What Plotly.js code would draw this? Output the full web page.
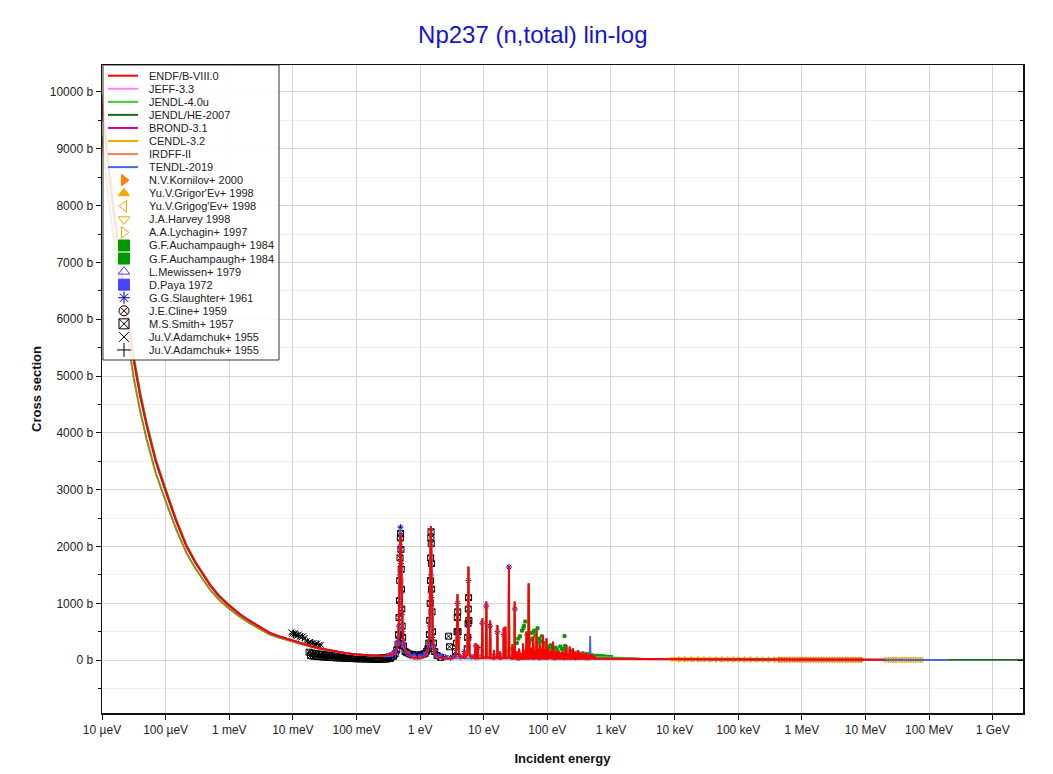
<!DOCTYPE html>
<html><head><meta charset="utf-8">
<script src="https://cdn.plot.ly/plotly-3.0.1.min.js"></script>
<style>html,body{margin:0;padding:0;background:#fff}#chart{width:1053px;height:774px}</style>
</head><body><div id="chart"></div>
<script>
// ---------- tick labels ----------
const X_TICK_VALS = [1e-5,1e-4,1e-3,1e-2,1e-1,1,10,100,1e3,1e4,1e5,1e6,1e7,1e8,1e9];
const X_TICK_TEXT = ['10 µeV','100 µeV','1 meV','10 meV','100 meV','1 eV','10 eV','100 eV','1 keV','10 keV','100 keV','1 MeV','10 MeV','100 MeV','1 GeV'];
const Y_TICK_VALS = [0,1000,2000,3000,4000,5000,6000,7000,8000,9000,10000];
const Y_TICK_TEXT = ['0 b','1000 b','2000 b','3000 b','4000 b','5000 b','6000 b','7000 b','8000 b','9000 b','10000 b'];

// ---------- evaluated data: low-energy (1/v) part ----------
const LOW_E = [1e-5,1.2e-5,1.5e-5,2e-5,2.5e-5,3.16e-5,4e-5,5e-5,7e-5,1e-4,1.5e-4,2.14e-4,3e-4,5e-4,7e-4,1e-3,1.5e-3,2.1e-3,3e-3,4.3e-3,6e-3,1e-2,1.5e-2,2.07e-2,3e-2,4.8e-2,7e-2,0.1,0.15,0.23,0.3,0.36];
const ENDF_LOW = [9800,8900,7950,6850,6050,5280,4650,4150,3500,2980,2420,2000,1700,1320,1120,960,800,690,580,480,420,340,280,235,195,150,120,100,85,75,80,95];
const JENDL40_LOW = [9950,9030,8070,6950,6140,5360,4720,4210,3550,3025,2455,2030,1725,1340,1135,975,810,700,588,487,425,344,283,237,197,151,121,101,86,76,80,95];
const JENDLHE_LOW = [9210,8370,7470,6440,5690,4960,4370,3900,3290,2800,2275,1880,1600,1240,1055,905,755,650,548,455,398,322,266,224,187,145,117,97,83,74,79,94];
const CENDL_LOW = [9210,8370,7470,6440,5690,4960,4370,3900,3290,2800,2275,1880,1600,1240,1055,905,755,650,548,455,398,322,266,224,187,145,117,97,83,74,79,94];

// ---------- evaluated data: resolved resonance region (main resonances) ----------
const RES_E = [
 0.40,0.43,0.45,0.462,0.472,0.48,0.487,0.492,0.498,0.506,0.515,0.528,0.545,0.57,0.62,0.75,0.9,
 1.1,1.2,1.30,1.36,1.40,1.43,1.45,1.465,1.478,1.49,1.505,1.525,1.55,1.59,1.65,1.75,2.0,2.5,3.2,
 3.65,3.78,3.87,3.96,4.1, 4.8,4.95,5.05, 5.5,5.66,5.75,5.84,6.0, 7.2,7.45,7.6, 8.0,8.1,8.2,
 9.3,9.5,9.7, 10.8,10.97,11.15, 12.4,12.6,12.8, 14.3,14.5,14.7, 16.2,16.4,16.6, 17.8,18.0,18.2,
 20.4,20.6,20.9, 21.7,21.9,22.2, 24.6,24.9,25.2, 28.0,28.2,28.4, 30.4,30.7,31.0,
 32.6,33,33.4, 35.6,36,36.4, 38.5,39,39.5, 41,41.5,42, 43.6,44,44.4, 46.2,46.8,47.4, 50.3,50.9,51.5,
 52.5,53,53.5, 54.4,55,55.6, 56.4,57,57.6, 58.9,59.6,60.3, 62.3,63,63.7, 64.4,65,65.6, 66.5,67.3,68.1,
 70.2,71,71.8, 72.3,73,73.7, 75,75.9,76.8, 77.2,78,78.8, 79.2,80,80.8, 84.2,85.2,86.2, 87.1,88,88.9,
 91,92,93, 95.5,96.6,97.7, 98.5,99.4,100.2, 100.8,102,103.2, 106.7,108,109.3, 110.7,112,113.3,
 114.6,116,117.4, 118,119,120, 121.5,123,124.5, 125.5,127,128.5, 130.4,132,133.6, 135.4,136,136.8,
 137.4,139,140.6, 142.3,144,145.7, 148.2,150,151.8, 155.2,157,158.8, 163,165,167, 170,172,174,
 178,180,182, 186,188,190, 196.6,199,201.4, 202.6,205,207.4, 209.5,212,214.5, 215.4,218,220.6,
 222.3,225,227.7, 235,238,241, 250,253,256, 259,262,265, 271.7,275,278.3, 281.6,285,288.4,
 291.5,295,298.5, 300.4,304,307.6, 311.3,315,318.7, 326,330,334, 341,345,349, 355.7,360,364.3,
 375.5,380,384.5, 395.2,400,404.8, 410,415,420, 425,430,435, 444.7,450,455.3, 460.5,466,471.5,
 484,490,496, 504,510,516, 523.7,530,536.3, 543.5,550,556.5];
const ENDF_RES = [
 120,200,330,600,1100,1650,2150,2250,2100,1600,1100,600,330,200,110,50,40,
 50,80,150,260,450,900,1500,2100,2360,2150,1600,1000,550,300,170,100,45,30,30,
 80,450,1160,420,70, 40,176,40, 90,600,1645,550,80, 35,300,35, 35,265,35,
 40,734,40, 50,1027,50, 40,700,40, 30,180,30, 40,616,40, 30,150,30,
 40,569,40, 40,587,40, 50,1660,50, 30,250,30, 40,1027,40,
 25,150,25, 25,200,25, 25,120,25, 25,293,25, 25,90,25, 25,499,25, 25,1350,25,
 25,100,25, 25,220,25, 25,130,25, 25,411,25, 25,180,25, 25,90,25, 25,516,25,
 25,200,25, 25,110,25, 25,293,25, 25,100,25, 25,150,25, 25,440,25, 25,130,25,
 25,200,25, 25,382,25, 25,100,25, 25,235,25, 25,150,25, 25,120,25,
 25,176,25, 25,90,25, 25,323,25, 25,110,25, 25,120,25, 25,90,25,
 25,146,25, 25,100,25, 25,160,25, 25,120,25, 25,110,25, 25,90,25,
 25,140,25, 25,110,25, 25,264,25, 25,90,25, 25,120,25, 25,100,25,
 25,235,25, 25,120,25, 25,211,25, 25,90,25, 25,150,25, 25,110,25,
 25,100,25, 25,176,25, 25,90,25, 25,120,25, 25,100,25, 25,110,25,
 25,90,25, 25,130,25, 25,80,25, 25,100,25, 25,70,25, 25,88,25,
 25,70,25, 25,80,25, 25,60,25, 25,70,25];

// ---------- evaluated data: smaller resonances of the 30-560 eV forest ----------
const FOREST_E = [
 31.5,31.8,32.1, 34,34.3,34.6, 36.8,37.2,37.6, 39.7,40.1,40.5, 42.3,42.7,43.1, 44.9,45.3,45.7,
 48.1,48.6,49.1, 49.3,49.6,49.9, 51.7,52,52.3, 55.8,56,56.2, 57.8,58,58.4, 60.6,61,61.4,
 63.8,64,64.2, 68.4,69,69.6, 74,74.2,74.5, 81.5,82,82.5, 83,83.5,84, 89.2,89.6,90.2,
 93.5,94,94.6, 104,105,106, 129,129.4,129.8, 134,134.4,134.9, 141,141.4,141.9, 146,146.6,147.3,
 152.5,153,153.8, 159.5,160.5,161.8, 167.5,168.3,169.3, 175,176,177, 183,184,185, 191.5,193,194.5,
 229.5,231,232.8, 243,244.5,246.5, 266.5,268,269.8, 279,280,281, 289,290,291, 320,321,322.5,
 336,337.5,339.5, 351,352,353.5, 367.5,370,372.5, 387,390,392.5, 406,408,409.5, 437,440,443,
 457,458,459.5, 475,478,481, 498,500,502, 518,520,522, 538,540,542];
const FOREST_XS = [
 20,110,20, 20,90,20, 20,140,20, 20,100,20, 20,180,20, 20,130,20,
 20,220,20, 20,160,20, 20,140,20, 20,170,20, 20,120,20, 20,200,20,
 20,150,20, 20,180,20, 20,160,20, 20,200,20, 20,150,20, 20,170,20,
 20,150,20, 20,180,20, 20,160,20, 20,130,20, 20,150,20, 20,100,20,
 20,130,20, 20,140,20, 20,120,20, 20,150,20, 20,110,20, 20,170,20,
 20,160,20, 20,120,20, 20,110,20, 20,130,20, 20,120,20, 20,110,20,
 20,130,20, 20,100,20, 20,120,20, 20,110,20, 20,120,20, 20,100,20,
 20,90,20, 20,100,20, 20,80,20, 20,90,20, 20,70,20];

const TENDL_RES_E = [0.40,0.43,0.45,0.462,0.472,0.48,0.487,0.492,0.498,0.506,0.515,0.528,0.545,0.57,0.62,0.75,0.9,1.1,1.2,1.30,1.36,1.40,1.43,1.45,1.465,1.478,1.49,1.505,1.525,1.55,1.59,1.65,1.75,2.0,2.5,3.2,460,465,470,475,480,556];
const TENDL_RES = [120,200,330,600,1100,1650,2150,2320,2100,1600,1100,600,330,200,110,50,40,50,80,150,260,450,900,1500,2100,2340,2150,1600,1000,550,300,170,100,45,30,30,25,25,423,25,25,30];

// ---------- evaluated data: smooth high-energy part ----------
const HIGH_E = [580,700,1000,3000,1e4,3e4,1e5,3e5,1e6,3e6,1e7,2e7];
const ENDF_HIGH = [30,28,25,21,18,15,12,10,8,7.2,6.2,5.8];
const JENDL40_HIGH = [60,55,45,25,19,15,12,10,8,7.2,6.2,5.8];
const HE_HIGH_E = [580,700,1000,3000,1e4,3e4,1e5,3e5,1e6,3e6,1e7,2e7,5e7,1e8,3e8,1e9,3e9];
const JENDLHE_HIGH = [30,28,25,21,18,15,12,10,8,7.2,6.2,5.8,5.0,4.7,4.5,4.4,4.4];
const TENDL_HIGH_E = [580,700,1000,3000,1e4,3e4,1e5,3e5,1e6,3e6,1e7,2e7,5e7,1e8,2e8];
const TENDL_HIGH = [30,28,25,21,18,15,12,10,8,7.2,6.2,5.8,5.0,4.7,4.6];

// ---------- experimental data ----------
const KORNILOV_E = [4.5e5,5e5,5.5e5,6e5,6.6e5,7.3e5,8e5,8.8e5,9.7e5,1.07e6,1.18e6,1.3e6,1.43e6,1.57e6,1.73e6,1.9e6,2.1e6,2.3e6,2.55e6,2.8e6,3.1e6,3.4e6,3.75e6,4.1e6,4.5e6,5e6,5.5e6,6e6,6.6e6,7.3e6,8e6,8.8e6];
const KORNILOV_XS = [9.0,8.8,8.6,8.4,8.2,8.0,7.9,7.8,7.7,7.6,7.5,7.4,7.3,7.3,7.2,7.2,7.2,7.2,7.2,7.2,7.1,7.1,7.0,6.9,6.8,6.7,6.6,6.5,6.3,6.2,6.0,5.9];
const GRIGOREV_E = [1e5,1.5e5,2e5,3e5,4e5,5e5,6.5e5,8e5,1e6,1.2e6,1.5e6,2e6,2.5e6,3e6,4e6,5e6,6.5e6,8e6];
const GRIGOREV_XS = [11.5,10.8,10.3,9.6,9.2,8.9,8.4,8.1,7.8,7.6,7.4,7.2,7.2,7.1,6.9,6.8,6.5,6.3];
const GRIGOGEV_E = [2e7,2.2e7,2.4e7,2.6e7,2.8e7,3e7,3.3e7,3.6e7,3.9e7,4.2e7,4.6e7,5e7,5.4e7,5.9e7,6.4e7,7e7,7.6e7];
const GRIGOGEV_XS = [5.7,5.6,5.5,5.5,5.4,5.4,5.3,5.2,5.1,5.1,5.0,4.9,4.9,4.8,4.7,4.7,4.6];
const HARVEY_E = [9e3,1e4,1.1e4,1.25e4,1.4e4,1.6e4,1.8e4,2e4,2.3e4,2.6e4,3e4,3.4e4,3.9e4,4.5e4,5.2e4,6e4,7e4,8e4,9e4,1.05e5,1.2e5,1.4e5,1.6e5,1.85e5,2.1e5,2.4e5,2.8e5,3.2e5,3.7e5,4.3e5,5e5,5.7e5,6.5e5];
const HARVEY_XS = [16.5,16,15.6,15.2,15,14.7,14.4,14.2,13.9,13.7,13.4,13.2,13,12.7,12.4,12.2,12,11.7,11.5,11.2,11,10.7,10.4,10.2,10,9.8,9.5,9.3,9.1,8.9,8.7,8.5,8.3];
const LYCHAGIN_E = [1.2e4,1.5e4,1.9e4,2.4e4,3e4,3.7e4,4.6e4,5.7e4,7e4,8.6e4,1.05e5,1.3e5,1.6e5,2e5,2.5e5,3.1e5,3.8e5,4.7e5];
const LYCHAGIN_XS = [15.3,15,14.5,14,13.4,13.1,12.6,12.3,12,11.6,11.2,10.8,10.4,10.2,9.9,9.5,9.2,8.9];
const AUCH1_E = [22,26,33,37,40,43,45,48,53,57,62,65,70,74,78,82,88,95,104,112,120,135,145,160,175,186,195,210,240,270,300,340,380,420,470,520,580,640,700,800,900,1000];
const AUCH1_XS = [150,200,300,420,520,600,680,470,350,480,520,430,560,380,330,420,300,250,200,260,180,220,160,240,150,423,180,120,140,110,130,100,90,110,90,80,70,75,70,65,60,55];
const AUCH2_E = [24,29,35,42,47,52,58,66,72,90,98,110,125,140,170,190,230,260,320,360,450,500,600,750,950];
const AUCH2_XS = [180,250,380,560,450,300,380,500,300,280,220,240,200,180,200,250,160,130,110,120,95,85,75,65,55];
const MEWISSEN_E = [1.8,2.2,2.6,3.1,4.4,6.4,7.0,8.7,13.5,15.3,19.2,23];
const MEWISSEN_XS = [80,60,55,50,60,55,70,60,80,70,90,80];
const PAYA_E = [0.35,0.40,0.45,0.55,0.65,0.8,1.0,1.2,1.6,2.0];
const PAYA_XS = [100,130,300,280,120,70,60,110,250,70];
const SLAUGHTER_E = [0.30,0.33,0.36,0.39,0.42,0.44,0.455,0.465,0.475,0.482,0.487,0.491,0.495,0.50,0.507,0.515,0.525,0.54,0.57,0.62,0.7,0.8,0.9,1.0,1.1,1.2,1.3,1.38,1.42,1.46,1.48,1.50,1.55,1.6,1.7,1.8,2.0,2.2,2.5,3.0,3.5,3.8,3.87,3.95,4.3,5.0,5.6,5.75,5.9,6.5,7.5,8.1,9.5,10.97,12.6,14,16.4,18,20.6,24.9,27,30.7];
const SLAUGHTER_XS = [70,75,90,110,160,240,380,600,1000,1500,2000,2340,2200,1700,1200,800,500,300,180,110,70,55,50,60,80,120,200,300,600,1200,1500,1100,400,230,150,100,70,60,50,45,70,500,1000,400,60,150,600,1400,400,60,250,220,650,950,600,60,500,60,450,1640,60,900];
const CLINE_E = [0.06,0.08,0.1,0.12];
const CLINE_XS = [60,55,45,40];
const SMITH_E = [0.0180,0.0190,0.0200,0.0212,0.0225,0.0238,0.0252,0.0267,0.0283,0.0300,0.0318,0.0337,0.0357,0.0378,0.0400,0.0424,0.0449,0.0476,0.0504,0.0534,0.0566,0.0600,0.0636,0.0674,0.0714,0.0757,0.0802,0.0850,0.0900,0.0954,0.101,0.107,0.113,0.120,0.127,0.135,0.143,0.151,0.160,0.170,0.180,0.191,0.202,0.214,0.227,0.240,0.255,0.270,0.286,0.303,0.321,0.340,0.360,0.382,0.405,0.43,
 0.45,0.458,0.466,0.473,0.479,0.484,0.489,0.494,0.499,0.504,0.509,0.515,0.522,0.532,0.55,0.58,0.62,0.68,0.75,0.82,0.9,0.98,1.05,1.12,1.2,1.27,
 1.33,1.37,1.40,1.42,1.44,1.455,1.465,1.475,1.485,1.495,1.505,1.52,1.54,1.57,1.62,1.7,1.85,2.1,2.8,2.9,3.6,3.75,3.8,3.84,3.9,3.95,5.5,5.6,5.68,5.72,5.78,5.85];
const SMITH_XS = [140,80,125,70,115,65,110,60,100,55,95,50,90,48,85,45,80,40,75,38,70,35,66,32,62,30,58,28,55,25,52,22,48,20,45,20,42,18,40,15,40,15,38,12,38,14,40,15,45,20,50,30,60,70,110,180,
 280,450,750,1050,1400,1800,2150,2230,1950,1600,1250,900,600,400,250,150,130,110,100,90,85,90,95,105,120,160,
 200,300,450,700,1000,1400,1800,2150,2260,2050,1700,1250,850,500,300,150,80,50,422,235,150,300,500,750,850,500,200,400,650,900,1100,700];
const ADAMCHUK_X_E = [0.0095,0.0099,0.0104,0.0108,0.0113,0.0118,0.0124,0.0130,0.0137,0.0145,0.0153,0.0165,0.0175,0.0186,0.0198,0.0211,0.0225,0.0240,0.0258,0.0276];
const ADAMCHUK_X_XS = [490,470,455,480,440,430,450,415,400,420,390,330,310,320,295,300,280,290,265,270];
const ADAMCHUK_P_E = [0.0102,0.0121,0.0142,0.0172,0.0205,0.0250];
const ADAMCHUK_P_XS = [460,435,405,320,290,275];

// ---------- build traces ----------
const cat = (...a) => [].concat(...a);
const FONT = 'Liberation Sans, Arial, sans-serif';

// merge main resonances with the forest of small ones, ordered by energy
const resPairs = RES_E.map((e,i)=>[e, ENDF_RES[i]]).concat(FOREST_E.map((e,i)=>[e, FOREST_XS[i]]))
  .sort((a,b)=>a[0]-b[0]);
const RES_ALL_E = resPairs.map(p=>p[0]);
const RES_ALL_XS = resPairs.map(p=>p[1]);

const lib = [
  {name:'ENDF/B-VIII.0', color:'#ff0000', x:cat(LOW_E,RES_ALL_E,HIGH_E), y:cat(ENDF_LOW,RES_ALL_XS,ENDF_HIGH), z:8, w:2},
  {name:'JEFF-3.3', color:'#ff80ff', x:cat(LOW_E,RES_ALL_E,HIGH_E), y:cat(ENDF_LOW,RES_ALL_XS,ENDF_HIGH), z:4},
  {name:'JENDL-4.0u', color:'#33cc33', x:cat(LOW_E,RES_ALL_E,HIGH_E), y:cat(JENDL40_LOW,RES_ALL_XS,JENDL40_HIGH), z:5},
  {name:'JENDL/HE-2007', color:'#1a6e1a', x:cat(LOW_E,RES_ALL_E,HE_HIGH_E), y:cat(JENDLHE_LOW,RES_ALL_XS,JENDLHE_HIGH), z:1},
  {name:'BROND-3.1', color:'#cc0099', x:cat(LOW_E,RES_ALL_E,HIGH_E), y:cat(ENDF_LOW,RES_ALL_XS,ENDF_HIGH), z:3},
  {name:'CENDL-3.2', color:'#ffa500', x:cat(LOW_E,RES_ALL_E,HIGH_E), y:cat(CENDL_LOW,RES_ALL_XS,ENDF_HIGH), z:2, op:0.55},
  {name:'IRDFF-II', color:'#ff7f50', x:cat(LOW_E,RES_ALL_E,HIGH_E), y:cat(ENDF_LOW,RES_ALL_XS,ENDF_HIGH), z:3.5},
  {name:'TENDL-2019', color:'#4169e1', x:cat(LOW_E,TENDL_RES_E,TENDL_HIGH_E), y:cat(ENDF_LOW,TENDL_RES,TENDL_HIGH), z:6}
];
const exp = [
  {name:'N.V.Kornilov+ 2000', sym:'triangle-right', color:'#ff8000', x:KORNILOV_E, y:KORNILOV_XS, s:5},
  {name:"Yu.V.Grigor'Ev+ 1998", sym:'triangle-up', color:'#ffa500', x:GRIGOREV_E, y:GRIGOREV_XS, s:5},
  {name:"Yu.V.Grigog'Ev+ 1998", sym:'triangle-left-open', color:'#ffa500', x:GRIGOGEV_E, y:GRIGOGEV_XS, s:5},
  {name:'J.A.Harvey 1998', sym:'triangle-down-open', color:'#ffa500', x:HARVEY_E, y:HARVEY_XS, s:5},
  {name:'A.A.Lychagin+ 1997', sym:'triangle-right-open', color:'#ffa500', x:LYCHAGIN_E, y:LYCHAGIN_XS, s:5},
  {name:'G.F.Auchampaugh+ 1984', sym:'square', color:'#009900', x:AUCH1_E, y:AUCH1_XS, s:3},
  {name:'G.F.Auchampaugh+ 1984', sym:'square', color:'#009900', x:AUCH2_E, y:AUCH2_XS, s:3},
  {name:'L.Mewissen+ 1979', sym:'triangle-up-open', color:'#4040ff', x:MEWISSEN_E, y:MEWISSEN_XS, s:4},
  {name:'D.Paya 1972', sym:'square', color:'#4444ff', x:PAYA_E, y:PAYA_XS, s:4},
  {name:'G.G.Slaughter+ 1961', sym:'asterisk-open', color:'#0000b0', x:SLAUGHTER_E, y:SLAUGHTER_XS, s:5},
  {name:'J.E.Cline+ 1959', sym:'circle-x-open', color:'#000000', x:CLINE_E, y:CLINE_XS, s:6},
  {name:'M.S.Smith+ 1957', sym:'square-x-open', color:'#000000', x:SMITH_E, y:SMITH_XS, s:6},
  {name:'Ju.V.Adamchuk+ 1955', sym:'x-thin-open', color:'#000000', x:ADAMCHUK_X_E, y:ADAMCHUK_X_XS, s:6},
  {name:'Ju.V.Adamchuk+ 1955', sym:'cross-thin-open', color:'#000000', x:ADAMCHUK_P_E, y:ADAMCHUK_P_XS, s:6}
];

const traces = [];
exp.slice().reverse().forEach(d => {
  traces.push({type:'scatter', mode:'markers', x:d.x, y:d.y, name:d.name, showlegend:false, hoverinfo:'skip',
    marker:{symbol:d.sym, size:d.s, color:d.color, line:{color:d.color, width:1}}});
});
lib.slice().sort((a,b)=>a.z-b.z).forEach(d => {
  traces.push({type:'scatter', mode:'lines', x:d.x, y:d.y, name:d.name, showlegend:false, hoverinfo:'skip',
    opacity:d.op||1, line:{color:d.color, width:d.w||1.8}});
});
// carrier for the mirrored right-hand tick axis
traces.push({type:'scatter', mode:'markers', x:[1], y:[0], yaxis:'y3', hoverinfo:'skip', showlegend:false,
  marker:{opacity:0}});

// ---------- custom legend in pixel space (overlay axes x2/y2) ----------
const PX_L = 102, PX_R = 1023, PX_T = 65, PX_B = 713;
const LEG = {x0:103, x1:279, y0:65, y1:360, row0:75.7, dy:13.06, lx0:108, lx1:138, mx:124, tx:147};
traces.push({type:'scatter', mode:'lines', xaxis:'x2', yaxis:'y2', hoverinfo:'skip', showlegend:false,
  x:[LEG.x0,LEG.x1,LEG.x1,LEG.x0,LEG.x0], y:[LEG.y0,LEG.y0,LEG.y1,LEG.y1,LEG.y0],
  fill:'toself', fillcolor:'rgba(255,255,255,0.88)', line:{color:'#333', width:1}});
const annotations = [];
const items = lib.map(d=>({name:d.name, kind:'line', color:d.color}))
  .concat(exp.map(d=>({name:d.name, kind:'marker', color:d.color, sym:d.sym})));
items.forEach((it,i) => {
  const yy = LEG.row0 + LEG.dy*i;
  if (it.kind === 'line') {
    traces.push({type:'scatter', mode:'lines', xaxis:'x2', yaxis:'y2', hoverinfo:'skip', showlegend:false,
      x:[LEG.lx0,LEG.lx1], y:[yy,yy], line:{color:it.color, width:2}});
  } else {
    const big = it.sym === 'square' ? 11 : 10;
    traces.push({type:'scatter', mode:'markers', xaxis:'x2', yaxis:'y2', hoverinfo:'skip', showlegend:false,
      x:[LEG.mx], y:[yy], marker:{symbol:it.sym, size:big, color:it.color, line:{color:it.color, width:1}}});
  }
  annotations.push({xref:'x2', yref:'y2', x:LEG.tx, y:yy, text:it.name, showarrow:false,
    xanchor:'left', yanchor:'middle', font:{family:FONT, size:11, color:'#222'}});
});

const Y_RANGE = [-930, 10475];
const layout = {
  width:1053, height:774,
  margin:{l:PX_L, r:1053-PX_R, t:PX_T, b:774-PX_B, pad:0},
  paper_bgcolor:'#ffffff', plot_bgcolor:'#ffffff',
  font:{family:FONT, size:12, color:'#222'},
  showlegend:false,
  title:{text:'Np237 (n,total) lin-log', font:{family:FONT, size:24, color:'#1414cc'},
    x:0.506, xref:'container', xanchor:'center', y:1-35/774, yref:'container', yanchor:'middle'},
  xaxis:{type:'log', range:[-5, 9.476], tickmode:'array', tickvals:X_TICK_VALS, ticktext:X_TICK_TEXT,
    ticks:'outside', ticklen:5, tickcolor:'#111', showgrid:true, gridcolor:'#d4d4d4', gridwidth:1,
    showline:true, linecolor:'#111', linewidth:1.5, mirror:true, zeroline:false,
    tickfont:{family:FONT, size:12, color:'#222'},
    title:{text:'<b>Incident energy</b>', font:{family:FONT, size:13, color:'#111'}, standoff:18}},
  yaxis:{range:Y_RANGE, tickmode:'array', tickvals:Y_TICK_VALS, ticktext:Y_TICK_TEXT,
    ticks:'outside', ticklen:5, tickcolor:'#111', showgrid:true, gridcolor:'#d4d4d4', gridwidth:1,
    minor:{tick0:0, dtick:500, ticks:'outside', ticklen:3, tickcolor:'#111', showgrid:true, gridcolor:'#f0f0f0'},
    showline:true, linecolor:'#111', linewidth:1.5, mirror:true, zeroline:false,
    tickfont:{family:FONT, size:12, color:'#222'},
    title:{text:'<b>Cross section</b>', font:{family:FONT, size:13, color:'#111'}, standoff:5}},
  yaxis3:{overlaying:'y', anchor:'x', side:'right', range:Y_RANGE, tickmode:'array', tickvals:Y_TICK_VALS,
    showticklabels:false, ticks:'inside', ticklen:5, tickcolor:'#111', showgrid:false, zeroline:false, showline:false,
    minor:{tick0:0, dtick:500, ticks:'inside', ticklen:3, tickcolor:'#111', showgrid:false}},
  xaxis2:{overlaying:'x', anchor:'y2', range:[PX_L, PX_R], visible:false, fixedrange:true},
  yaxis2:{overlaying:'y', anchor:'x2', range:[PX_B, PX_T], visible:false, fixedrange:true},
  annotations:annotations
};

Plotly.newPlot('chart', traces, layout, {displayModeBar:false, staticPlot:true});
</script>
</body></html>
